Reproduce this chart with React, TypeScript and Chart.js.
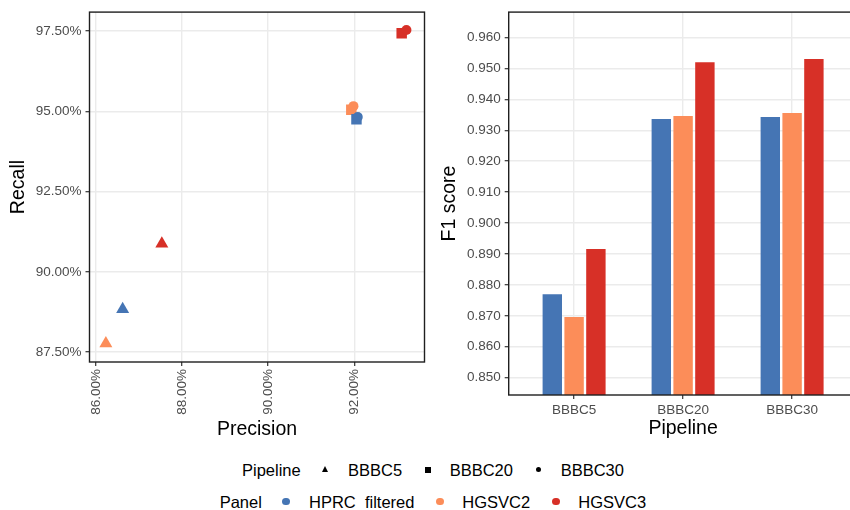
import React, { useEffect, useRef } from 'react';
import { Chart, registerables } from 'chart.js';

Chart.register(...registerables);

const FONT = "'Liberation Sans', Arial, Helvetica, sans-serif";

const pipelines = ['BBBC5', 'BBBC20', 'BBBC30'];
const panels = ['HPRC  filtered', 'HGSVC2', 'HGSVC3'];
const panelColors = ['#4575B4', '#FC8D59', '#D73027'];
const pipelineShapes = ['triangle', 'rect', 'circle'];

// Precision / Recall (%), per pipeline BBBC5, BBBC20, BBBC30
const hprcPrecision = [86.62, 92.05, 92.08];
const hprcRecall = [88.83, 94.75, 94.82];
const hgsvc2Precision = [86.23, 91.93, 91.98];
const hgsvc2Recall = [87.77, 95.05, 95.16];
const hgsvc3Precision = [87.53, 93.1, 93.21];
const hgsvc3Recall = [90.875, 97.43, 97.53];

// F1 score per pipeline
const hprcF1 = [0.877, 0.9336, 0.9343];
const hgsvc2F1 = [0.8696, 0.9346, 0.9356];
const hgsvc3F1 = [0.8916, 0.952, 0.953];

const precisionTicks = [86, 88, 90, 92];
const recallTicks = [87.5, 90, 92.5, 95, 97.5];
const f1Ticks = [0.85, 0.86, 0.87, 0.88, 0.89, 0.9, 0.91, 0.92, 0.93, 0.94, 0.95, 0.96];

const precisionSets = [hprcPrecision, hgsvc2Precision, hgsvc3Precision];
const recallSets = [hprcRecall, hgsvc2Recall, hgsvc3Recall];
const f1Sets = [hprcF1, hgsvc2F1, hgsvc3F1];

const shapeRadius: Record<string, number> = { triangle: 7.5, rect: 7.4, circle: 5 };

const framePlugin = {
  id: 'frame',
  afterDraw(chart: any) {
    const { ctx, chartArea: a } = chart;
    ctx.save();
    ctx.strokeStyle = '#1f1f1f';
    ctx.lineWidth = 1.4;
    ctx.strokeRect(a.left, a.top, a.right - a.left, a.bottom - a.top);
    ctx.restore();
  },
};

const gridOpts = {
  color: '#EBEBEB',
  lineWidth: 1.4,
  tickColor: '#333333',
  tickWidth: 1.2,
  tickLength: 4,
};
const tickFont = { family: FONT, size: 13.5 };
const titleFont = { family: FONT, size: 19.5, lineHeight: 1 };

function ScatterChart() {
  const ref = useRef<HTMLCanvasElement>(null);
  useEffect(() => {
    const datasets = panels.map((p, k) => ({
      label: p,
      data: precisionSets[k].map((x, i) => ({ x, y: recallSets[k][i] })),
      backgroundColor: panelColors[k],
      borderColor: panelColors[k],
      pointBorderWidth: 0,
      pointStyle: (c: any) => pipelineShapes[c.dataIndex] as any,
      pointRadius: (c: any) => shapeRadius[pipelineShapes[c.dataIndex]],
    }));
    const chart = new Chart(ref.current!, {
      type: 'scatter',
      data: { datasets } as any,
      plugins: [framePlugin],
      options: {
        animation: false,
        responsive: false,
        layout: { padding: { left: 0, right: 7, top: 12, bottom: 0 } },
        plugins: { legend: { display: false }, tooltip: { enabled: false } },
        scales: {
          x: {
            type: 'linear',
            min: 85.85,
            max: 93.63,
            afterBuildTicks: (s: any) => {
              s.ticks = precisionTicks.map((v) => ({ value: v }));
            },
            afterFit: (s: any) => {
              s.height = 83;
            },
            ticks: {
              minRotation: 90,
              maxRotation: 90,
              autoSkip: false,
              padding: 3,
              color: '#4D4D4D',
              font: tickFont,
              callback: (v: any) => Number(v).toFixed(2) + '%',
            },
            grid: gridOpts,
            border: { display: false },
            title: {
              display: true,
              text: 'Precision',
              color: '#000',
              font: titleFont,
              padding: { top: 0, bottom: 6 },
            },
          },
          y: {
            type: 'linear',
            min: 87.19,
            max: 98.09,
            afterBuildTicks: (s: any) => {
              s.ticks = recallTicks.map((v) => ({ value: v }));
            },
            afterFit: (s: any) => {
              s.width = 89.5;
            },
            ticks: {
              padding: 4,
              color: '#4D4D4D',
              font: tickFont,
              callback: (v: any) => Number(v).toFixed(2) + '%',
            },
            grid: gridOpts,
            border: { display: false },
            title: {
              display: true,
              text: 'Recall',
              color: '#000',
              font: titleFont,
              padding: { top: 8.75, bottom: 0 },
            },
          },
        },
      } as any,
    });
    return () => chart.destroy();
  }, []);
  return (
    <canvas
      ref={ref}
      width={432}
      height={445}
      style={{ position: 'absolute', left: 0, top: 0, width: 432, height: 445 }}
    />
  );
}

function BarChart() {
  const ref = useRef<HTMLCanvasElement>(null);
  useEffect(() => {
    const datasets = panels.map((p, k) => ({
      label: p,
      data: f1Sets[k].map((y, i) => ({ x: i + 1, y })),
      backgroundColor: panelColors[k],
      borderWidth: 0,
      categoryPercentage: 0.6,
      barPercentage: 0.89,
    }));
    const chart = new Chart(ref.current!, {
      type: 'bar',
      data: { datasets } as any,
      plugins: [framePlugin],
      options: {
        animation: false,
        responsive: false,
        layout: { padding: { left: 0, right: 2.5, top: 12, bottom: 0 } },
        plugins: { legend: { display: false }, tooltip: { enabled: false } },
        scales: {
          x: {
            type: 'linear',
            min: 0.4,
            max: 3.6,
            offset: false,
            afterBuildTicks: (s: any) => {
              s.ticks = pipelines.map((_, i) => ({ value: i + 1 }));
            },
            afterFit: (s: any) => {
              s.height = 50;
            },
            ticks: {
              autoSkip: false,
              maxRotation: 0,
              minRotation: 0,
              padding: 3,
              color: '#4D4D4D',
              font: tickFont,
              callback: (v: any) => pipelines[Math.round(Number(v)) - 1] ?? '',
            },
            grid: { ...gridOpts, offset: false },
            border: { display: false },
            title: {
              display: true,
              text: 'Pipeline',
              color: '#000',
              font: titleFont,
              padding: { top: 0, bottom: 6.75 },
            },
          },
          y: {
            type: 'linear',
            min: 0.8444,
            max: 0.9682,
            afterBuildTicks: (s: any) => {
              s.ticks = f1Ticks.map((v) => ({ value: v }));
            },
            afterFit: (s: any) => {
              s.width = 78.7;
            },
            ticks: {
              padding: 4,
              color: '#4D4D4D',
              font: tickFont,
              callback: (v: any) => Number(v).toFixed(3),
            },
            grid: gridOpts,
            border: { display: false },
            title: {
              display: true,
              text: 'F1 score',
              color: '#000',
              font: titleFont,
              padding: { top: 10, bottom: 0 },
            },
          },
        },
      } as any,
    });
    return () => chart.destroy();
  }, []);
  return (
    <canvas
      ref={ref}
      width={430}
      height={445}
      style={{ position: 'absolute', left: 430, top: 0, width: 430, height: 445 }}
    />
  );
}

const legendText: React.CSSProperties = {
  position: 'absolute',
  fontFamily: FONT,
  fontSize: 16.5,
  lineHeight: '20px',
  height: 20,
  color: '#000',
  whiteSpace: 'pre',
};

function Label({ x, cy, text }: { x: number; cy: number; text: string }) {
  return <span style={{ ...legendText, left: x, top: cy - 10 }}>{text}</span>;
}

function Shape({ kind, cx, cy, color }: { kind: string; cx: number; cy: number; color: string }) {
  if (kind === 'triangle') {
    return (
      <span
        style={{
          position: 'absolute',
          left: cx - 3.75,
          top: cy - 3.5,
          width: 0,
          height: 0,
          borderLeft: '3.75px solid transparent',
          borderRight: '3.75px solid transparent',
          borderBottom: `6.5px solid ${color}`,
        }}
      />
    );
  }
  if (kind === 'rect') {
    return (
      <span
        style={{ position: 'absolute', left: cx - 3, top: cy - 3, width: 6, height: 6, background: color }}
      />
    );
  }
  const d = kind === 'dot' ? 7.3 : 5.6;
  return (
    <span
      style={{
        position: 'absolute',
        left: cx - d / 2,
        top: cy - d / 2,
        width: d,
        height: d,
        borderRadius: '50%',
        background: color,
      }}
    />
  );
}

const row1Shapes = [325.7, 427.7, 538.3];
const row1Texts = [348, 449.7, 560.7];
const row2Dots = [286, 440, 556];
const row2Texts = [309, 462.3, 578.3];

export default function App() {
  return (
    <div
      style={{
        position: 'absolute',
        left: 0,
        top: 0,
        width: 850,
        height: 510,
        overflow: 'hidden',
        background: '#fff',
      }}
    >
      <ScatterChart />
      <BarChart />
      <Label x={242} cy={470} text="Pipeline" />
      {pipelines.map((p, i) => (
        <React.Fragment key={p}>
          <Shape kind={pipelineShapes[i]} cx={row1Shapes[i]} cy={469.5} color="#000" />
          <Label x={row1Texts[i]} cy={470} text={p} />
        </React.Fragment>
      ))}
      <Label x={219.7} cy={502} text="Panel" />
      {panels.map((p, i) => (
        <React.Fragment key={p}>
          <Shape kind="dot" cx={row2Dots[i]} cy={501.7} color={panelColors[i]} />
          <Label x={row2Texts[i]} cy={502} text={p} />
        </React.Fragment>
      ))}
    </div>
  );
}
